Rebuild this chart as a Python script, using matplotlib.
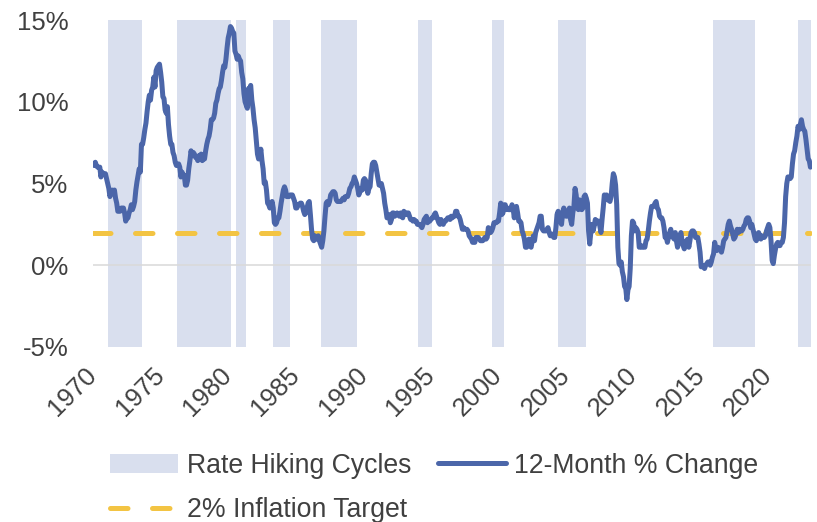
import matplotlib.pyplot as plt
from matplotlib.patches import Patch
from matplotlib.lines import Line2D
from matplotlib.transforms import ScaledTranslation
import numpy as np

plt.rcParams['font.family'] = ['Liberation Sans', 'DejaVu Sans']

BLUE = '#4b66a9'
GOLD = '#f3c443'
SHADE = '#d9dfee'
TEXT = '#404040'

# 12-month % change, monthly, Jan 1970 - Feb 2023
cpi_1970s = [
    6.2, 6.1, 6.3, 6.1, 6.0, 6.0, 6.0, 5.4, 5.7, 5.6, 5.6, 5.6,
    5.3, 5.0, 4.7, 4.2, 4.4, 4.6, 4.4, 4.6, 4.1, 3.8, 3.3, 3.3,
    3.3, 3.5, 3.5, 3.5, 3.2, 2.7, 2.9, 2.9, 3.2, 3.4, 3.7, 3.4,
    3.6, 3.9, 4.6, 5.1, 5.5, 5.9, 5.7, 7.4, 7.4, 7.8, 8.3, 8.7,
    9.4, 10.0, 10.4, 10.1, 10.7, 10.9, 11.5, 10.9, 11.9, 12.1, 12.2, 12.3,
    11.8, 11.2, 10.3, 10.2, 9.5, 9.3, 9.7, 8.6, 7.9, 7.4, 7.4, 6.9,
    6.7, 6.3, 6.1, 6.1, 6.2, 6.0, 5.4, 5.7, 5.5, 5.5, 4.9, 4.9,
    5.2, 5.9, 6.4, 7.0, 6.7, 6.9, 6.8, 6.6, 6.6, 6.4, 6.7, 6.7,
    6.8, 6.4, 6.6, 6.5, 7.0, 7.4, 7.7, 7.9, 8.3, 8.9, 8.9, 9.0,
    9.3, 9.9, 10.1, 10.5, 10.8, 10.9, 11.3, 11.8, 12.2, 12.1, 12.6, 13.3,
]
cpi_1980s = [
    13.9, 14.2, 14.6, 14.5, 14.3, 14.2, 13.1, 12.9, 12.6, 12.8, 12.6, 12.5,
    11.8, 11.4, 10.5, 10.0, 9.8, 9.6, 10.8, 10.8, 11.0, 10.1, 9.6, 8.9,
    8.4, 7.6, 6.8, 6.5, 6.7, 7.1, 6.4, 5.9, 5.0, 5.1, 4.6, 3.8,
    3.7, 3.5, 3.6, 3.9, 3.5, 2.6, 2.5, 2.6, 2.9, 2.9, 3.3, 3.8,
    4.2, 4.6, 4.8, 4.6, 4.2, 4.2, 4.2, 4.3, 4.3, 4.3, 4.1, 3.9,
    3.5, 3.5, 3.7, 3.7, 3.8, 3.8, 3.6, 3.3, 3.1, 3.2, 3.5, 3.8,
    3.9, 3.1, 2.2, 1.6, 1.5, 1.8, 1.6, 1.6, 1.8, 1.5, 1.3, 1.1,
    1.5, 2.1, 3.0, 3.8, 3.9, 3.7, 3.9, 4.3, 4.4, 4.5, 4.5, 4.4,
    4.0, 3.9, 3.9, 3.9, 3.9, 4.0, 4.1, 4.0, 4.2, 4.2, 4.2, 4.4,
    4.7, 4.8, 5.0, 5.1, 5.4, 5.2, 5.0, 4.7, 4.3, 4.5, 4.7, 4.6,
]
cpi_1990s = [
    5.2, 5.3, 5.2, 4.7, 4.4, 4.7, 4.8, 5.6, 6.2, 6.3, 6.3, 6.1,
    5.7, 5.3, 4.9, 4.9, 5.0, 4.7, 4.4, 3.8, 3.4, 2.9, 3.0, 3.1,
    2.6, 2.8, 3.2, 3.2, 3.0, 3.1, 3.2, 3.1, 3.0, 3.2, 3.0, 2.9,
    3.3, 3.2, 3.1, 3.2, 3.2, 3.0, 2.8, 2.8, 2.7, 2.8, 2.7, 2.7,
    2.5, 2.5, 2.5, 2.4, 2.3, 2.5, 2.8, 2.9, 3.0, 2.6, 2.7, 2.7,
    2.8, 2.9, 2.9, 3.1, 3.2, 3.0, 2.8, 2.6, 2.5, 2.8, 2.6, 2.5,
    2.7, 2.7, 2.8, 2.9, 2.9, 2.8, 3.0, 2.9, 3.0, 3.0, 3.3, 3.3,
    3.0, 3.0, 2.8, 2.5, 2.2, 2.3, 2.2, 2.2, 2.2, 2.1, 1.8, 1.7,
    1.6, 1.4, 1.4, 1.4, 1.7, 1.7, 1.7, 1.6, 1.5, 1.5, 1.5, 1.6,
    1.7, 1.6, 1.7, 2.3, 2.1, 2.0, 2.1, 2.3, 2.6, 2.6, 2.6, 2.7,
]
cpi_2000s = [
    2.7, 3.2, 3.8, 3.1, 3.2, 3.7, 3.7, 3.4, 3.5, 3.4, 3.4, 3.4,
    3.7, 3.5, 2.9, 3.3, 3.6, 3.2, 2.7, 2.7, 2.6, 2.1, 1.9, 1.6,
    1.1, 1.1, 1.5, 1.6, 1.2, 1.1, 1.5, 1.8, 1.5, 2.0, 2.2, 2.4,
    2.6, 3.0, 3.0, 2.2, 2.1, 2.1, 2.1, 2.2, 2.3, 2.0, 1.8, 1.9,
    1.9, 1.7, 1.7, 2.3, 3.1, 3.3, 3.0, 2.7, 2.5, 3.2, 3.5, 3.3,
    3.0, 3.0, 3.1, 3.5, 2.8, 2.5, 3.2, 3.6, 4.7, 4.3, 3.5, 3.4,
    4.0, 3.6, 3.4, 3.5, 4.2, 4.3, 4.1, 3.8, 2.1, 1.3, 2.0, 2.5,
    2.1, 2.4, 2.8, 2.6, 2.7, 2.7, 2.4, 2.0, 2.8, 3.5, 4.3, 4.1,
    4.3, 4.0, 4.0, 3.9, 4.2, 5.0, 5.6, 5.4, 4.9, 3.7, 1.1, 0.1,
    0.0, 0.2, -0.4, -0.7, -1.3, -1.4, -2.1, -1.5, -1.3, -0.2, 1.8, 2.7,
]
cpi_2010s = [
    2.6, 2.1, 2.3, 2.2, 2.0, 1.1, 1.2, 1.1, 1.1, 1.2, 1.1, 1.5,
    1.6, 2.1, 2.7, 3.2, 3.6, 3.6, 3.6, 3.8, 3.9, 3.5, 3.4, 3.0,
    2.9, 2.9, 2.7, 2.3, 1.7, 1.7, 1.4, 1.7, 2.0, 2.2, 1.8, 1.7,
    1.6, 2.0, 1.5, 1.1, 1.4, 1.8, 2.0, 1.5, 1.2, 1.0, 1.2, 1.5,
    1.6, 1.1, 1.5, 2.0, 2.1, 2.1, 2.0, 1.7, 1.7, 1.7, 1.3, 0.8,
    -0.1, 0.0, -0.1, -0.2, 0.0, 0.1, 0.2, 0.2, 0.0, 0.2, 0.5, 0.7,
    1.4, 1.0, 0.9, 1.1, 1.0, 1.0, 0.8, 1.1, 1.5, 1.6, 1.7, 2.1,
    2.5, 2.7, 2.4, 2.2, 1.9, 1.6, 1.7, 1.9, 2.2, 2.0, 2.2, 2.1,
    2.1, 2.2, 2.4, 2.5, 2.8, 2.9, 2.9, 2.7, 2.3, 2.5, 2.2, 1.9,
    1.6, 1.5, 1.9, 2.0, 1.8, 1.6, 1.8, 1.7, 1.7, 1.8, 2.1, 2.3,
]
cpi_2020s = [
    2.5, 2.3, 1.5, 0.3, 0.1, 0.6, 1.0, 1.3, 1.4, 1.2, 1.2, 1.4,
    1.4, 1.7, 2.6, 4.2, 5.0, 5.4, 5.4, 5.3, 5.4, 6.2, 6.8, 7.0,
    7.5, 7.9, 8.5, 8.3, 8.6, 8.9, 8.5, 8.3, 8.2, 7.7, 7.1, 6.5,
    6.4, 6.0,
]

# rate hiking cycles (decimal years)
hike_start = [1971.1, 1976.2, 1980.55, 1983.3, 1986.85, 1994.05, 1999.5, 2004.4, 2015.9, 2022.2]
hike_end = [1973.6, 1980.2, 1981.35, 1984.6, 1989.5, 1995.1, 2000.4, 2006.45, 2019.0, 2023.1]

inflation_target = 2.0
year_ticks = list(range(1970, 2021, 5))
pct_ticks = [-5, 0, 5, 10, 15]

cpi = np.array(cpi_1970s + cpi_1980s + cpi_1990s + cpi_2000s + cpi_2010s + cpi_2020s)
dates = 1970 + np.arange(len(cpi)) / 12.0

fig = plt.figure(figsize=(8.17, 5.22), dpi=100)
ax = fig.add_axes([92.5 / 817, 175 / 522, 719.5 / 817, 327 / 522])

for s, e in zip(hike_start, hike_end):
    ax.axvspan(s, e, color=SHADE, lw=0, zorder=0)

ax.plot([dates[0], dates[-1]], [0, 0], color='#d9d9d9', lw=1.1, zorder=1)
ax.plot([dates[0], dates[-1]], [inflation_target, inflation_target], color=GOLD,
        lw=3.6, linestyle=(0, (3.5, 4.9)), dash_capstyle='round', zorder=2)
ax.plot(dates, cpi, color=BLUE, lw=3.6, solid_capstyle='round', solid_joinstyle='round', zorder=3)

ax.set_xlim(1969.96, 2023.2)
ax.set_ylim(-5, 15)
for sp in ax.spines.values():
    sp.set_visible(False)

ax.set_yticks(pct_ticks)
ax.set_yticklabels([f'{v}%' for v in pct_ticks])
ax.set_xticks(year_ticks)
ax.set_xticklabels([str(y) for y in year_ticks], rotation=45, ha='right')
ax.tick_params(length=0, labelsize=18.5, colors=TEXT)
ax.tick_params(axis='y', pad=17.5)
ax.tick_params(axis='x', pad=12)
shift = ScaledTranslation(0.085, 0.01, fig.dpi_scale_trans)
for lbl in ax.get_xticklabels():
    lbl.set_transform(lbl.get_transform() + shift)

handles = [
    Patch(facecolor=SHADE, edgecolor='none'),
    Line2D([], [], color=GOLD, lw=3.6, linestyle=(0, (3.5, 4.9)), dash_capstyle='round'),
    Line2D([], [], color=BLUE, lw=3.6, solid_capstyle='round'),
]
labels = ['Rate Hiking Cycles', '2% Inflation Target', '12-Month % Change']
leg = fig.legend(handles, labels, ncol=2, loc='upper left', bbox_to_anchor=(110 / 817, 1 - 453 / 522),
                 frameon=False, fontsize=19.2, handlelength=2.55, handleheight=0.75,
                 handletextpad=0.32, columnspacing=1.0, labelspacing=0.68, borderpad=0, borderaxespad=0)
for t in leg.get_texts():
    t.set_color(TEXT)

fig.savefig('out.png', dpi=100)
